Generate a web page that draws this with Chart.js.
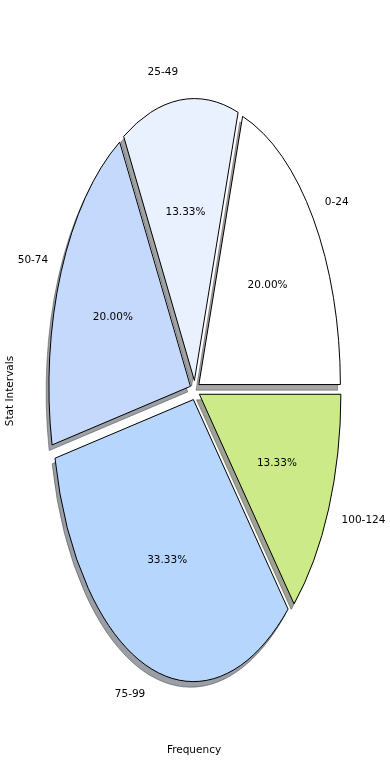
<!DOCTYPE html>
<html>
<head>
<meta charset="utf-8">
<script src="https://cdn.jsdelivr.net/npm/chart.js@4.4.0/dist/chart.umd.min.js"></script>
<style>
html, body { margin: 0; padding: 0; background: #fff; }
#wrap { width: 390px; height: 780px; }
</style>
</head>
<body>
<div id="wrap"><canvas id="pie"></canvas></div>
<script>
const categories = ["0-24", "25-49", "50-74", "75-99", "100-124"];
const counts = [3, 2, 3, 5, 2];
const sliceColors = ["#ffffff", "#eaf1fe", "#c5d9fd", "#b6d6fe", "#cdea89"];
const xTitle = "Frequency";
const yTitle = "Stat Intervals";

const FONT = "10.5px 'DejaVu Sans'";
const STRETCH = 1.993;     // vertical radius / horizontal radius
const EXPLODE = 4.9;       // px, pulled out along each slice's middle
const SHADOW_DX = -2.8;
const SHADOW_DY = 5.6;

const total = counts.reduce((a, b) => a + b, 0);
// matplotlib goes counter-clockwise from 3 o'clock, Chart.js clockwise, so feed it reversed
const order = categories.map((_, i) => i).reverse();

function shadowColor(hex) {
    const n = parseInt(hex.slice(1), 16);
    const r = Math.round(((n >> 16) & 255) * 0.3);
    const g = Math.round(((n >> 8) & 255) * 0.3);
    const b = Math.round((n & 255) * 0.3);
    return "rgba(" + r + "," + g + "," + b + ",0.5)";
}

const ellipsePie = {
    id: "ellipsePie",
    beforeDatasetDraw(chart, args) {
        const ctx = chart.ctx;
        const arcs = chart.getDatasetMeta(args.index).data;
        const geo = arcs.map((arc, j) => {
            const mid = (arc.startAngle + arc.endAngle) / 2;
            return {
                arc: arc,
                idx: order[j],
                mid: mid,
                cx: arc.x + EXPLODE * Math.cos(mid),
                cy: arc.y + EXPLODE * STRETCH * Math.sin(mid),
                r: arc.outerRadius
            };
        });

        function wedge(g, ox, oy) {
            ctx.beginPath();
            ctx.moveTo(g.cx + ox, g.cy + oy);
            ctx.ellipse(g.cx + ox, g.cy + oy, g.r, g.r * STRETCH, 0, g.arc.startAngle, g.arc.endAngle);
            ctx.closePath();
        }

        // shadows under everything
        geo.forEach(g => {
            ctx.save();
            wedge(g, SHADOW_DX, SHADOW_DY);
            ctx.fillStyle = shadowColor(sliceColors[g.idx]);
            ctx.strokeStyle = ctx.fillStyle;
            ctx.lineWidth = 1;
            ctx.fill();
            ctx.stroke();
            ctx.restore();
        });

        // slices, stretched into an ellipse
        geo.forEach(g => {
            ctx.save();
            ctx.translate(g.cx, g.cy);
            ctx.scale(1, STRETCH);
            ctx.translate(-g.arc.x, -g.arc.y);
            g.arc.draw(ctx);
            ctx.restore();

            ctx.save();
            wedge(g, 0, 0);
            ctx.strokeStyle = "#000";
            ctx.lineWidth = 1;
            ctx.stroke();
            ctx.restore();
        });

        // labels
        ctx.save();
        ctx.font = FONT;
        ctx.fillStyle = "#000";
        ctx.textBaseline = "middle";
        geo.forEach(g => {
            const c = Math.cos(g.mid), s = Math.sin(g.mid);
            ctx.textAlign = c > 0 ? "left" : "right";
            ctx.fillText(categories[g.idx], g.cx + 1.1 * g.r * c, g.cy + 1.1 * g.r * STRETCH * s);
            ctx.textAlign = "center";
            const pct = (counts[g.idx] / total * 100).toFixed(2) + "%";
            ctx.fillText(pct, g.cx + 0.6 * g.r * c, g.cy + 0.6 * g.r * STRETCH * s);
        });

        ctx.textAlign = "center";
        ctx.fillText(xTitle, 194, 750);
        ctx.translate(10, 391);
        ctx.rotate(-Math.PI / 2);
        ctx.fillText(yTitle, 0, 0);
        ctx.restore();

        return false;
    }
};

new Chart(document.getElementById("pie"), {
    type: "pie",
    data: {
        labels: order.map(i => categories[i]),
        datasets: [{
            data: order.map(i => counts[i]),
            backgroundColor: order.map(i => sliceColors[i]),
            borderWidth: 0,
            radius: 141.5
        }]
    },
    options: {
        responsive: true,
        maintainAspectRatio: false,
        animation: false,
        events: [],
        rotation: 90,
        layout: { padding: { left: 0.4, right: 0.6, top: 0.6, bottom: 0 } },
        plugins: {
            legend: { display: false },
            tooltip: { enabled: false }
        }
    },
    plugins: [ellipsePie]
});
</script>
</body>
</html>
